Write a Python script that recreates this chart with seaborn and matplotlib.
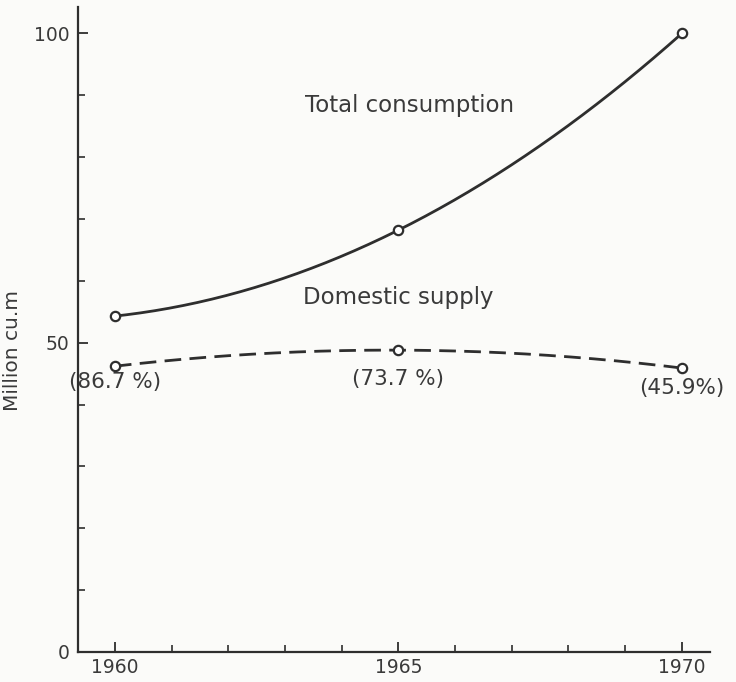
import numpy as np
import pandas as pd
import matplotlib
matplotlib.use("Agg")
import matplotlib.pyplot as plt
import seaborn as sns

years = [1960, 1965, 1970]
total_consumption = [54.3, 68.2, 100.0]
domestic_supply = [46.2, 48.8, 45.9]
domestic_share_labels = ["(86.7 %)", "(73.7 %)", "(45.9%)"]
y_ticks = [0, 50, 100]

sns.set_style("ticks")
plt.rcParams["font.family"] = ["DejaVu Sans"]
ink = "#2e2e2e"
txt = "#3a3a3a"
bg = "#fbfbf9"

fig = plt.figure(figsize=(7.36, 6.82), dpi=100, facecolor=bg)
ax = fig.add_axes([0.106, 0.044, 0.859, 0.946], facecolor=bg)

# smooth curves through the three points (quadratic through each series)
dense_x = np.linspace(years[0], years[-1], 200)
tot_curve = np.polyval(np.polyfit(years, total_consumption, 2), dense_x)
dom_curve = np.polyval(np.polyfit(years, domestic_supply, 2), dense_x)
curves = pd.DataFrame({"year": dense_x, "total": tot_curve, "domestic": dom_curve})
pts = pd.DataFrame({"year": years, "total": total_consumption, "domestic": domestic_supply})

sns.lineplot(data=curves, x="year", y="total", ax=ax, color=ink, lw=2.0)
sns.lineplot(data=curves, x="year", y="domestic", ax=ax, color=ink, lw=2.0)
ax.lines[-1].set_dashes((6.0, 3.0))
for col in ["total", "domestic"]:
    sns.scatterplot(data=pts, x="year", y=col, ax=ax, s=45, facecolor="white",
                    edgecolor=ink, linewidth=1.6, zorder=5)

ax.text(1965.2, 88.3, "Total consumption", ha="center", va="center", fontsize=16.5, color=txt)
ax.text(1965.0, 57.3, "Domestic supply", ha="center", va="center", fontsize=16.5, color=txt)
label_y = [43.6, 44.1, 42.6]
for x, y, t in zip(years, label_y, domestic_share_labels):
    ax.text(x, y, t, ha="center", va="center", fontsize=15.5, color=txt)

ax.set_xlim(1959.35, 1970.5)
ax.set_ylim(0, 104.3)
ax.set_xticks(years)
ax.set_xticks(np.arange(1960, 1971), minor=True)
ax.set_yticks(y_ticks)
ax.set_yticks(np.arange(0, 101, 10), minor=True)
ax.set_xticklabels([str(y) for y in years])
ax.tick_params(axis="both", which="major", direction="in", length=7, width=1.3,
               colors=ink, labelsize=13.5, labelcolor=txt)
ax.tick_params(axis="both", which="minor", direction="in", length=5, width=1.2, colors=ink)
ax.tick_params(axis="x", pad=4)
ax.tick_params(axis="y", pad=6)
ax.set_xlabel("")
ax.set_ylabel("Million cu.m", fontsize=14.5, color=txt)
ax.yaxis.set_label_coords(-0.089, 0.468)
for s in ["top", "right"]:
    ax.spines[s].set_visible(False)
for s in ["left", "bottom"]:
    ax.spines[s].set_color(ink)
    ax.spines[s].set_linewidth(1.6)

fig.savefig("out.png", dpi=100, facecolor=bg)
